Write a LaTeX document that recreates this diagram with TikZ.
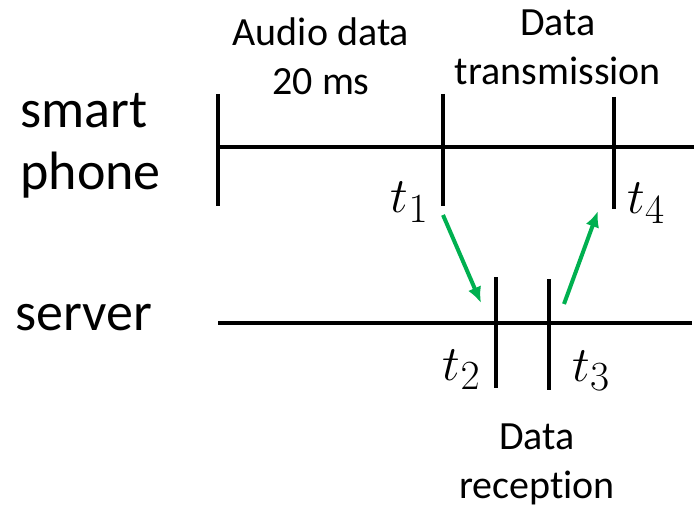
\documentclass[tikz,border=0pt]{standalone}
\usepackage{fontspec}
\setmainfont{Carlito}[Ligatures=CommonOff]
\usetikzlibrary{arrows.meta}
\definecolor{msggreen}{RGB}{0,176,80}

\begin{document}
\begin{tikzpicture}[x=0.5pt, y=-0.5pt,
  axis/.style={line width=2pt},
  tk/.style={line width=2pt},
  lbl/.style={font=\fontsize{20}{24.5}\selectfont, align=center, inner sep=0pt, anchor=base},
  host/.style={font=\fontsize{27}{31}\selectfont, align=left, inner sep=0pt, anchor=base west},
  tm/.style={font=\fontsize{28}{32}\selectfont, inner sep=0pt},
  msg/.style={-{Latex[length=8pt,width=7pt]}, line width=2pt, msggreen}]
 \useasboundingbox (0,0) rectangle (694,507);
 % smart phone (top)
 \node[host] (phone) at (20,190) {smart\\phone};
 \coordinate (pL) at (218,147); \coordinate (pR) at (694,147);
 \coordinate (s0t) at (218,94);  \coordinate (s0b) at (218,206);
 \coordinate (s1t) at (443,94);  \coordinate (s1b) at (443,206);
 \coordinate (s4t) at (614,97);  \coordinate (s4b) at (614,209);
 \draw[axis] (pL)--(pR);
 \draw[tk] (s0t)--(s0b); \draw[tk] (s1t)--(s1b); \draw[tk] (s4t)--(s4b);
 \node[lbl] (audio) at (321,95) {Audio data\\20 ms};
 \node[lbl] (tx) at (558,85) {Data\\transmission};
 \node[tm, anchor=base east] (t1) at (429,213) {$t_1$};
 \node[tm, anchor=base west] (t4) at (627,214) {$t_4$};
 % server (bottom)
 \node[host] (server) at (15,330) {server};
 \coordinate (sL) at (218,323); \coordinate (sR) at (692,323);
 \coordinate (s2t) at (496,277); \coordinate (s2b) at (496,388);
 \coordinate (s3t) at (549,279); \coordinate (s3b) at (549,390);
 \draw[axis] (sL)--(sR);
 \draw[tk] (s2t)--(s2b); \draw[tk] (s3t)--(s3b);
 \node[tm, anchor=base east] (t2) at (481,380) {$t_2$};
 \node[tm, anchor=base west] (t3) at (572,381) {$t_3$};
 \node[lbl] (rx) at (537,498) {Data\\reception};
 % messages
 \coordinate (m1s) at (443,215); \coordinate (m1e) at (481,303);
 \coordinate (m2s) at (564,304); \coordinate (m2e) at (598,211);
 \draw[msg] (m1s)--(m1e); \draw[msg] (m2s)--(m2e);
\end{tikzpicture}
\end{document}
